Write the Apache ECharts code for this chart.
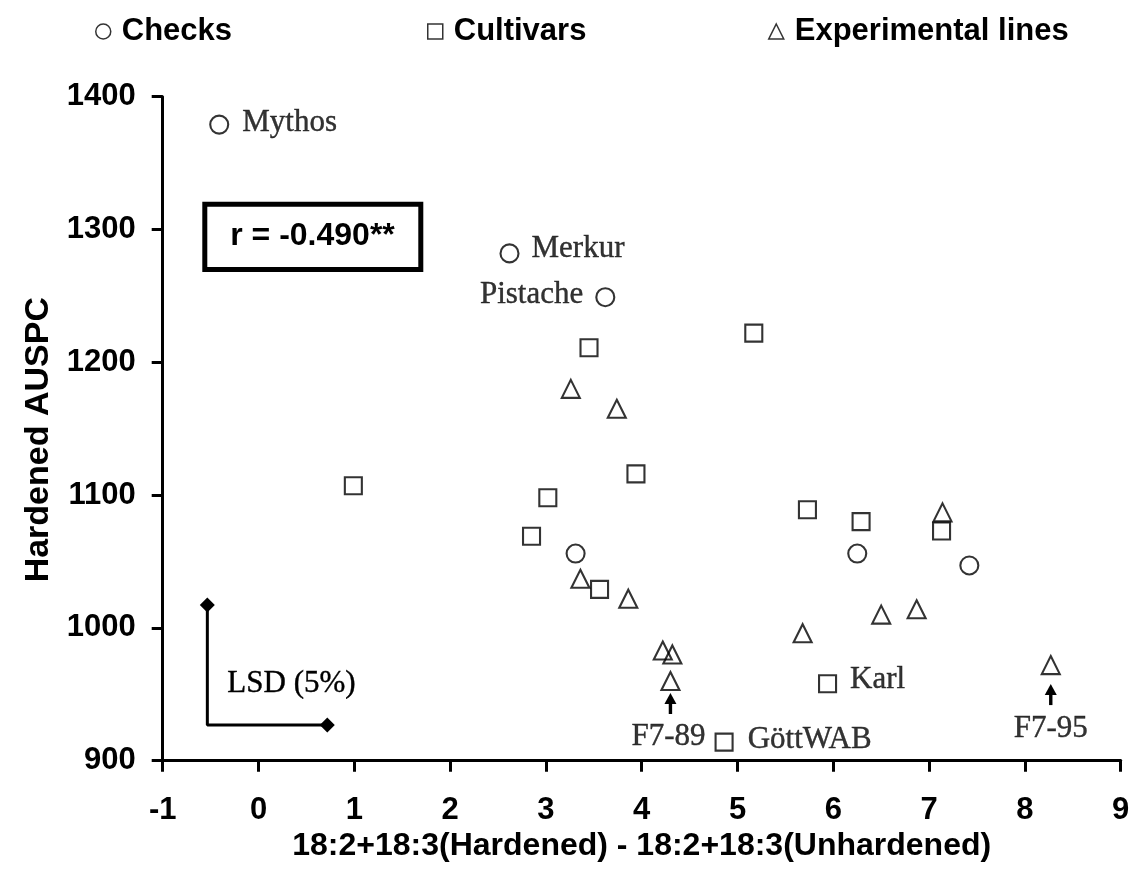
<!DOCTYPE html>
<html>
<head>
<meta charset="utf-8">
<script src="https://cdn.jsdelivr.net/npm/echarts@6/dist/echarts.min.js"></script>
<style>
  html, body { margin: 0; padding: 0; background: #fff; }
  #chart { width: 1136px; height: 888px; }
</style>
</head>
<body>
<div id="chart"></div>
<script>
// ---- data ----
const checksX = [-0.41, 2.62, 3.62, 3.31, 6.25, 7.42];
const checksY = [1379, 1282, 1249, 1056, 1056, 1047];
const checksNames = ['Mythos', 'Merkur', 'Pistache', '', '', ''];

const cultivarsX = [0.99, 2.85, 3.02, 3.45, 3.56, 3.94, 5.17, 5.73, 6.29, 7.13, 5.94, 4.86];
const cultivarsY = [1107, 1069, 1098, 1211, 1029, 1116, 1222, 1089, 1080, 1073, 958, 914];
const cultivarsNames = ['', '', '', '', '', '', '', '', '', '', 'Karl', 'GöttWAB'];

const linesX = [3.26, 3.74, 3.36, 3.86, 4.22, 4.32, 4.30, 5.68, 6.50, 6.87, 7.14, 8.27];
const linesY = [1180, 1165, 1037, 1022, 983, 980, 960, 996, 1010, 1014, 1087, 972];
const linesNames = ['', '', '', '', '', '', 'F7-89', '', '', '', '', 'F7-95'];

// LSD (5%) bracket: vertical arm then horizontal arm
const lsdX = [-0.534, -0.534, 0.718];
const lsdY = [1017.2, 926.9, 926.9];

const xTicks = { min: -1, max: 9, step: 1 };
const yTicks = { min: 900, max: 1400, step: 100 };

const correlationText = 'r = -0.490**';

// ---- styling ----
const SANS = '"Liberation Sans", Arial, Helvetica, sans-serif';
const SERIF = '"Liberation Serif", "Times New Roman", Times, serif';

// where each named point's caption sits
const labelPlacement = {
  'Mythos':   { position: 'right',  distance: 13, offset: [0, -2] },
  'Merkur':   { position: 'right',  distance: 12, offset: [0, -5] },
  'Pistache': { position: 'left',   distance: 12, offset: [0, -2] },
  'Karl':     { position: 'right',  distance: 13, offset: [0, -4] },
  'GöttWAB':  { position: 'right',  distance: 14, offset: [0, -2] },
  'F7-89':    { position: 'bottom', distance: 30, offset: [-2, 0] },
  'F7-95':    { position: 'bottom', distance: 38, offset: [0, 0] }
};
// upward arrows under the two F7 lines: gap below point centre, arrow length
const arrowMarks = { 'F7-89': { gap: 12, len: 21 }, 'F7-95': { gap: 19, len: 21 } };

// serif captions: plain black, with a hairline outline so the strokes read solid
const serifText = { fontFamily: SERIF, fontSize: 31, color: '#000', textBorderColor: '#000', textBorderWidth: 0.4 };

function buildData(xs, ys, names) {
  return xs.map((x, i) => {
    const item = { value: [x, ys[i]], name: names[i] || '' };
    const p = labelPlacement[names[i]];
    if (p) {
      item.label = Object.assign({ show: true, formatter: '{b}' }, serifText, p);
    }
    return item;
  });
}

const markerStyle = { color: 'rgba(0,0,0,0)', borderColor: '#000', borderWidth: 2.1 };
const pointLabel = Object.assign({ show: false }, serifText);

const legendCommon = {
  top: 16, padding: 0, itemWidth: 15, itemHeight: 15, selectedMode: false,
  itemStyle: { borderWidth: 1.5 },
  textStyle: { fontFamily: SANS, fontWeight: 'bold', fontSize: 31, color: '#000', padding: [0, 0, 0, 6] }
};

const boldAxisText = { fontFamily: SANS, fontWeight: 'bold', color: '#000' };

const chart = echarts.init(document.getElementById('chart'), null, { renderer: 'canvas' });

const option = {
  backgroundColor: '#fff',
  animation: false,
  grid: { left: 162.7, right: 15.3, top: 96.7, bottom: 127.3, outerBoundsMode: 'none' },
  legend: [
    Object.assign({ data: ['Checks'], left: 95 }, legendCommon),
    Object.assign({ data: ['Cultivars'], left: 427 }, legendCommon),
    Object.assign({ data: ['Experimental lines'], left: 768 }, legendCommon)
  ],
  xAxis: {
    type: 'value', min: xTicks.min, max: xTicks.max, interval: xTicks.step,
    splitLine: { show: false },
    axisLine: { show: true, onZero: false, lineStyle: { color: '#000', width: 3 } },
    axisTick: { show: true, length: 11, lineStyle: { color: '#000', width: 3 } },
    axisLabel: Object.assign({
      margin: 34, fontSize: 31, showMinLabel: true, showMaxLabel: true, hideOverlap: false,
      formatter: v => String(v)
    }, boldAxisText),
    name: '18:2+18:3(Hardened) - 18:2+18:3(Unhardened)',
    nameLocation: 'middle', nameGap: 50,
    nameTextStyle: Object.assign({ fontSize: 32 }, boldAxisText)
  },
  yAxis: {
    type: 'value', min: yTicks.min, max: yTicks.max, interval: yTicks.step,
    splitLine: { show: false },
    axisLine: { show: true, onZero: false, lineStyle: { color: '#000', width: 3 } },
    axisTick: { show: true, length: 11, lineStyle: { color: '#000', width: 3 } },
    axisLabel: Object.assign({
      margin: 27, fontSize: 31, showMinLabel: true, showMaxLabel: true, hideOverlap: false,
      formatter: v => String(v)
    }, boldAxisText),
    name: 'Hardened AUSPC',
    nameLocation: 'middle', nameGap: 102,
    nameTextStyle: Object.assign({ fontSize: 34, padding: [0, 22, 0, 0] }, boldAxisText)
  },
  series: [
    {
      type: 'scatter', name: 'Checks', symbol: 'circle', symbolSize: 18,
      itemStyle: markerStyle, label: pointLabel, emphasis: { disabled: true },
      data: buildData(checksX, checksY, checksNames)
    },
    {
      type: 'scatter', name: 'Cultivars', symbol: 'rect', symbolSize: 17,
      itemStyle: markerStyle, label: pointLabel, emphasis: { disabled: true },
      data: buildData(cultivarsX, cultivarsY, cultivarsNames)
    },
    {
      type: 'scatter', name: 'Experimental lines', symbol: 'triangle', symbolSize: 18,
      itemStyle: markerStyle, label: pointLabel, emphasis: { disabled: true },
      data: buildData(linesX, linesY, linesNames)
    },
    {
      type: 'line', name: 'LSD', symbol: 'diamond', symbolSize: 15, showSymbol: true,
      lineStyle: { color: '#000', width: 3 }, itemStyle: { color: '#000' },
      emphasis: { disabled: true }, silent: true,
      data: lsdX.map((x, i) => (i === 1 ? { value: [x, lsdY[i]], symbol: 'none' } : { value: [x, lsdY[i]] }))
    }
  ]
};

chart.setOption(option);

// ---- annotations ----
const graphics = [];

// correlation coefficient box
graphics.push({
  type: 'rect', z: 10,
  shape: { x: 204.8, y: 204.2, width: 216, height: 65.3 },
  style: { fill: 'none', stroke: '#000', lineWidth: 5 }
});
graphics.push({
  type: 'text', z: 10, x: 312.5, y: 236,
  style: { text: correlationText, fontFamily: SANS, fontWeight: 'bold', fontSize: 32,
           fill: '#000', align: 'center', verticalAlign: 'middle' }
});

// LSD caption next to the bracket corner
const corner = chart.convertToPixel({ seriesIndex: 3 }, [lsdX[1], lsdY[1]]);
graphics.push({
  type: 'text', z: 10, x: corner[0] + 20, y: corner[1] - 41,
  style: { text: 'LSD (5%)', fontFamily: SERIF, fontSize: 31, fill: '#000',
           stroke: '#000', lineWidth: 0.4, align: 'left', verticalAlign: 'middle' }
});

// upward arrows under the F7 lines
linesNames.forEach((nm, i) => {
  const a = arrowMarks[nm];
  if (!a) return;
  const p = chart.convertToPixel({ seriesIndex: 2 }, [linesX[i], linesY[i]]);
  const tipY = p[1] + a.gap;
  graphics.push({
    type: 'polygon', z: 10,
    shape: { points: [[p[0], tipY], [p[0] - 6, tipY + 11], [p[0] + 6, tipY + 11]] },
    style: { fill: '#000' }
  });
  graphics.push({
    type: 'rect', z: 10,
    shape: { x: p[0] - 1.7, y: tipY + 9, width: 3.4, height: a.len - 9 },
    style: { fill: '#000' }
  });
});

chart.setOption({ graphic: graphics });
</script>
</body>
</html>
